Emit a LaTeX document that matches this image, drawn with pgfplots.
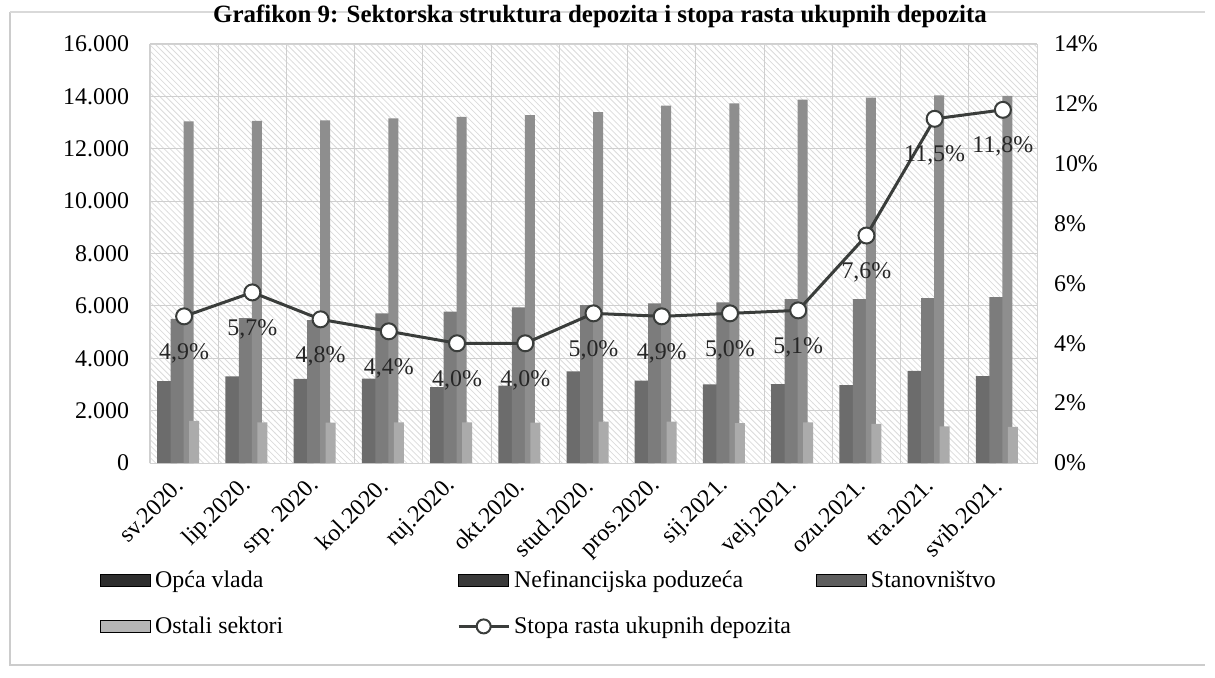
\documentclass[border=0pt]{standalone}
\usepackage{fontspec}
\setmainfont{Liberation Serif}
\usepackage{pgfplots}
\pgfplotsset{compat=1.18}
\usepackage{pgfplotstable}
\usetikzlibrary{patterns}

\definecolor{cOV}{HTML}{6C6C6C}
\definecolor{cNEF}{HTML}{7C7C7C}
\definecolor{cSTAN}{HTML}{8E8E8E}
\definecolor{cOST}{HTML}{ABABAB}
\definecolor{lOV}{HTML}{2E2E2E}
\definecolor{lNEF}{HTML}{3A3A3A}
\definecolor{lSTAN}{HTML}{5E5E5E}
\definecolor{lOST}{HTML}{B5B5B5}
\definecolor{cLine}{HTML}{3A3D3B}
\definecolor{cGrid}{HTML}{CFCFCF}

\pgfplotsset{
  mybarlegend/.style={legend image code/.code={\fill[##1] (0bp,-3bp) rectangle (25bp,3bp);}},
  mylinelegend/.style={legend image code/.code={\draw[##1,mark repeat=2,mark phase=2] plot coordinates {(0bp,0bp) (12.5bp,0bp) (25bp,0bp)};}},
}

\pgfplotstableread{
x ov nef stan ost rate
0 3125 5500 13050 1610 4.9
1 3310 5530 13060 1555 5.7
2 3215 5460 13080 1545 4.8
3 3220 5710 13160 1555 4.4
4 2900 5780 13220 1555 4.0
5 2950 5940 13280 1540 4.0
6 3500 6030 13400 1580 5.0
7 3150 6100 13650 1580 4.9
8 3000 6130 13730 1520 5.0
9 3010 6260 13880 1555 5.1
10 2970 6260 13950 1490 7.6
11 3520 6300 14040 1400 11.5
12 3320 6330 14020 1380 11.8
}\datatable

\newcommand{\fs}{\fontsize{12}{14}\selectfont}

\begin{document}
\begin{tikzpicture}
\path[use as bounding box] (-75bp,-107.5bp) rectangle (532.5bp,231.5bp);
\draw[gray!40, line width=0.7bp] (-70bp,225.5bp) -- (-70bp,-101bp) -- (527.5bp,-101bp);
\draw[gray!30, line width=0.7bp] (-70bp,225.5bp) -- (527.5bp,225.5bp);
\node[font=\fontsize{12.5}{14}\selectfont\bfseries] at (225bp,223.5bp) {Grafikon 9: Sektorska struktura depozita i stopa rasta ukupnih depozita};

\begin{axis}[
  at={(0,0)}, anchor=south west, scale only axis,
  width=443.5bp, height=209.5bp,
  xmin=-0.5, xmax=12.5, ymin=0, ymax=16000,
  scaled y ticks=false,
  xtick={0,...,12},
  xticklabels={sv.2020.,lip.2020.,srp. 2020.,kol.2020.,ruj.2020.,okt.2020.,stud.2020.,pros.2020.,sij.2021.,velj.2021.,ozu.2021.,tra.2021.,svib.2021.},
  minor xtick={-0.5,0.5,...,12.5},
  ytick={0,2000,...,16000},
  yticklabels={0,2.000,4.000,6.000,8.000,10.000,12.000,14.000,16.000},
  xminorgrids, ymajorgrids,
  grid style={cGrid, line width=0.5bp},
  minor grid style={cGrid, line width=0.5bp},
  major tick length=0pt, minor tick length=0pt,
  axis line style={gray!35},
  axis background/.style={pattern=north west lines, pattern color=gray!28},
  tick label style={font=\fs},
  yticklabel style={xshift=-7bp},
  xticklabel style={rotate=45, anchor=east, xshift=-5bp, yshift=-5bp},
  legend columns=3,
  legend cell align=left,
  legend style={at={(axis description cs:-0.0564,-0.3353)}, anchor=west, draw=none, fill=none,
    font=\fs, inner sep=0pt, row sep=9bp, nodes={inner sep=2bp}},
]
\addplot[ybar, bar width=10bp, bar shift=-8.5bp, fill=cOV, draw=none, forget plot] table[x=x,y=ov]{\datatable};
\addplot[ybar, bar width=9bp, bar shift=-2.25bp, fill=cNEF, draw=none, forget plot] table[x=x,y=nef]{\datatable};
\addplot[ybar, bar width=5bp, bar shift=2.25bp, fill=cSTAN, draw=none, forget plot] table[x=x,y=stan]{\datatable};
\addplot[ybar, bar width=5bp, bar shift=5bp, fill=cOST, draw=none, forget plot] table[x=x,y=ost]{\datatable};

\addlegendimage{mybarlegend, fill=lOV}
\addlegendentry{\makebox[149bp][l]{Opća vlada}}
\addlegendimage{mybarlegend, fill=lNEF}
\addlegendentry{\makebox[149bp][l]{Nefinancijska poduzeća}}
\addlegendimage{mybarlegend, fill=lSTAN}
\addlegendentry{\makebox[149bp][l]{Stanovništvo}}
\addlegendimage{mybarlegend, fill=lOST}
\addlegendentry{\makebox[149bp][l]{Ostali sektori}}
\addlegendimage{mylinelegend, color=cLine, line width=1.5bp, mark=*, mark size=3.5bp, mark options={fill=white, draw=cLine, line width=1bp}}
\addlegendentry{\makebox[149bp][l]{Stopa rasta ukupnih depozita}}
\end{axis}

\begin{axis}[
  at={(0,0)}, anchor=south west, scale only axis,
  width=443.5bp, height=209.5bp,
  xmin=-0.5, xmax=12.5, ymin=0, ymax=14,
  axis y line*=right, axis x line=none,
  y axis line style={draw=none},
  ytick={0,2,...,14},
  yticklabels={0\%,2\%,4\%,6\%,8\%,10\%,12\%,14\%},
  major tick length=0pt,
  tick label style={font=\fs},
  yticklabel style={xshift=5bp},
]
\addplot[color=cLine, line width=1.5bp, mark=*, mark size=4bp,
  mark options={fill=white, draw=cLine, line width=1bp},
  point meta=y,
  nodes near coords={\pgfmathprintnumber[fixed,fixed zerofill,precision=1,use comma,assume math mode=true]{\pgfplotspointmeta}\%},
  every node near coord/.append style={font=\fs, text=black!85, anchor=center, yshift=-18.5bp},
] table[x=x,y=rate]{\datatable};
\end{axis}
\end{tikzpicture}
\end{document}
